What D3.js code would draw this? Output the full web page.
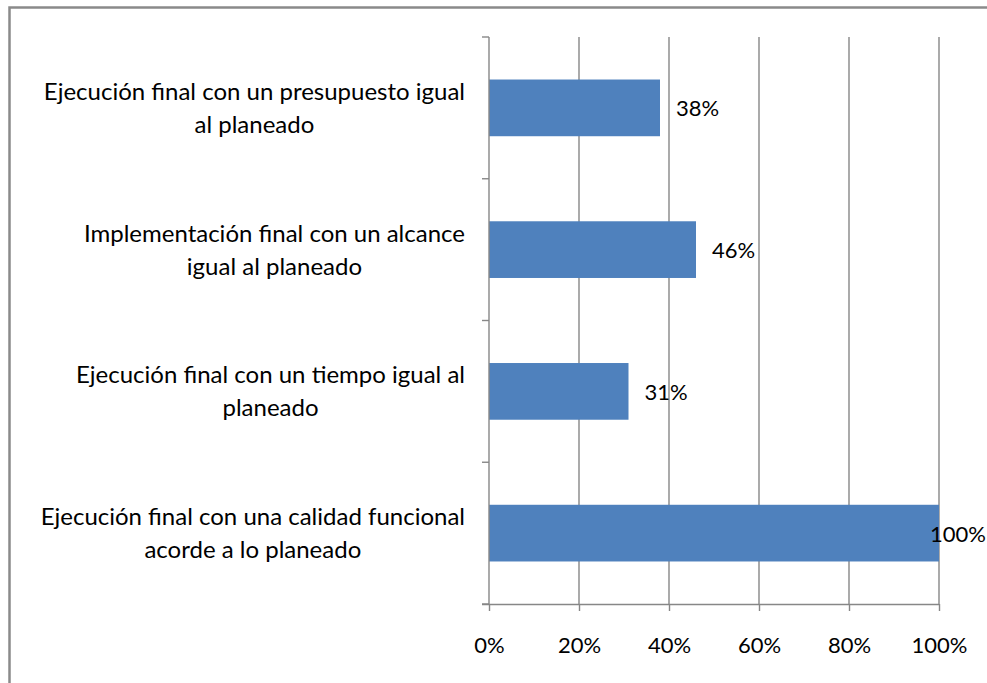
<!DOCTYPE html>
<html>
<head>
<meta charset="utf-8">
<script src="https://cdn.jsdelivr.net/npm/d3@7"></script>
<style>
  body { margin: 0; background: #fff; }
  svg text { font-family: Lato, "Open Sans", sans-serif; fill: #000; }
</style>
</head>
<body>
<div id="chart"></div>
<script>
// categories, top to bottom, each split in the two lines shown
var categories = [
    ["Ejecución final con un presupuesto igual", "al planeado"],
    ["Implementación final con un alcance", "igual al planeado"],
    ["Ejecución final con un tiempo igual al", "planeado"],
    ["Ejecución final con una calidad funcional", "acorde a lo planeado"]
];
var values = [0.38, 0.46, 0.31, 1.00];
var xTicks = [0, 0.2, 0.4, 0.6, 0.8, 1.0];

var svgWidth = 987;
var svgHeight = 683;

var plot = { left: 489, right: 939, top: 37, bottom: 604 };

var svg = d3.select("#chart").append("svg")
    .attr("width", svgWidth)
    .attr("height", svgHeight);

// outer frame (right and bottom edges fall outside the picture)
svg.append("rect")
    .attr("x", 9.5)
    .attr("y", 7.5)
    .attr("width", svgWidth + 20)
    .attr("height", svgHeight + 20)
    .attr("fill", "none")
    .attr("stroke", "#8a8a8a")
    .attr("stroke-width", 2.5);

var keys = categories.map((c, i) => i);

var xScale = d3.scaleLinear()
    .domain([0, 1])
    .range([plot.left, plot.right]);

// whole slots (for ticks and labels)
var yBand = d3.scaleBand()
    .domain(keys)
    .range([plot.top, plot.bottom]);

// bars inside the slots
var yBar = d3.scaleBand()
    .domain(keys)
    .range([plot.top, plot.bottom])
    .paddingInner(0.6)
    .paddingOuter(0.3);

// vertical gridlines
svg.append("g")
    .selectAll("line")
    .data(xTicks.slice(1))
    .enter()
    .append("line")
    .attr("x1", d => xScale(d))
    .attr("x2", d => xScale(d))
    .attr("y1", plot.top)
    .attr("y2", plot.bottom)
    .attr("stroke", "#878787")
    .attr("stroke-width", 1.4);

// bars
svg.append("g")
    .selectAll("rect")
    .data(values)
    .enter()
    .append("rect")
    .attr("x", xScale(0))
    .attr("y", (d, i) => yBar(i))
    .attr("width", d => xScale(d) - xScale(0))
    .attr("height", yBar.bandwidth())
    .attr("fill", "#4f81bd");

// x axis
var xAxis = d3.axisBottom(xScale)
    .tickValues(xTicks)
    .tickFormat(d3.format(".0%"))
    .tickSize(7)
    .tickSizeOuter(0);

var xAxisGroup = svg.append("g")
    .attr("transform", `translate(0, ${plot.bottom})`)
    .call(xAxis);

xAxisGroup.select(".domain")
    .attr("d", `M${plot.left - 7},0.5H${plot.right}`)
    .attr("stroke", "#878787")
    .attr("stroke-width", 1.4);
xAxisGroup.selectAll(".tick line")
    .attr("stroke", "#878787")
    .attr("stroke-width", 1.4);
xAxisGroup.selectAll("text")
    .attr("y", 49)
    .attr("dy", 0)
    .attr("font-size", "22px");

// y axis line and slot boundary ticks
svg.append("line")
    .attr("x1", plot.left)
    .attr("x2", plot.left)
    .attr("y1", plot.top)
    .attr("y2", plot.bottom)
    .attr("stroke", "#878787")
    .attr("stroke-width", 1.4);

var boundaries = keys.map(k => yBand(k)).concat([plot.bottom]);
svg.append("g")
    .selectAll("line")
    .data(boundaries)
    .enter()
    .append("line")
    .attr("x1", plot.left - 7)
    .attr("x2", plot.left)
    .attr("y1", d => d)
    .attr("y2", d => d)
    .attr("stroke", "#878787")
    .attr("stroke-width", 1.4);

// category labels: lines centred on each other, block ends at the axis
var labelRight = 465;
var labelGroups = svg.append("g")
    .selectAll("g")
    .data(categories)
    .enter()
    .append("g");

labelGroups.each(function(lines, i) {
    var g = d3.select(this);
    var mid = yBand(i) + yBand.bandwidth() / 2;
    var texts = lines.map((line, j) => g.append("text")
        .attr("y", mid - 8 + j * 33)
        .attr("text-anchor", "middle")
        .attr("font-size", "24px")
        .text(line));
    var widest = d3.max(texts, t => t.node().getComputedTextLength());
    texts.forEach(t => t.attr("x", labelRight - widest / 2));
});

// value labels
svg.append("g")
    .selectAll("text")
    .data(values)
    .enter()
    .append("text")
    .attr("y", (d, i) => yBar(i) + yBar.bandwidth() / 2 + 8.5)
    .attr("font-size", "22px")
    .text(d => d3.format(".0%")(d))
    .attr("x", function(d) {
        var w = this.getComputedTextLength();
        return Math.min(xScale(d) + 16, svgWidth - 1 - w);
    });
</script>
</body>
</html>
